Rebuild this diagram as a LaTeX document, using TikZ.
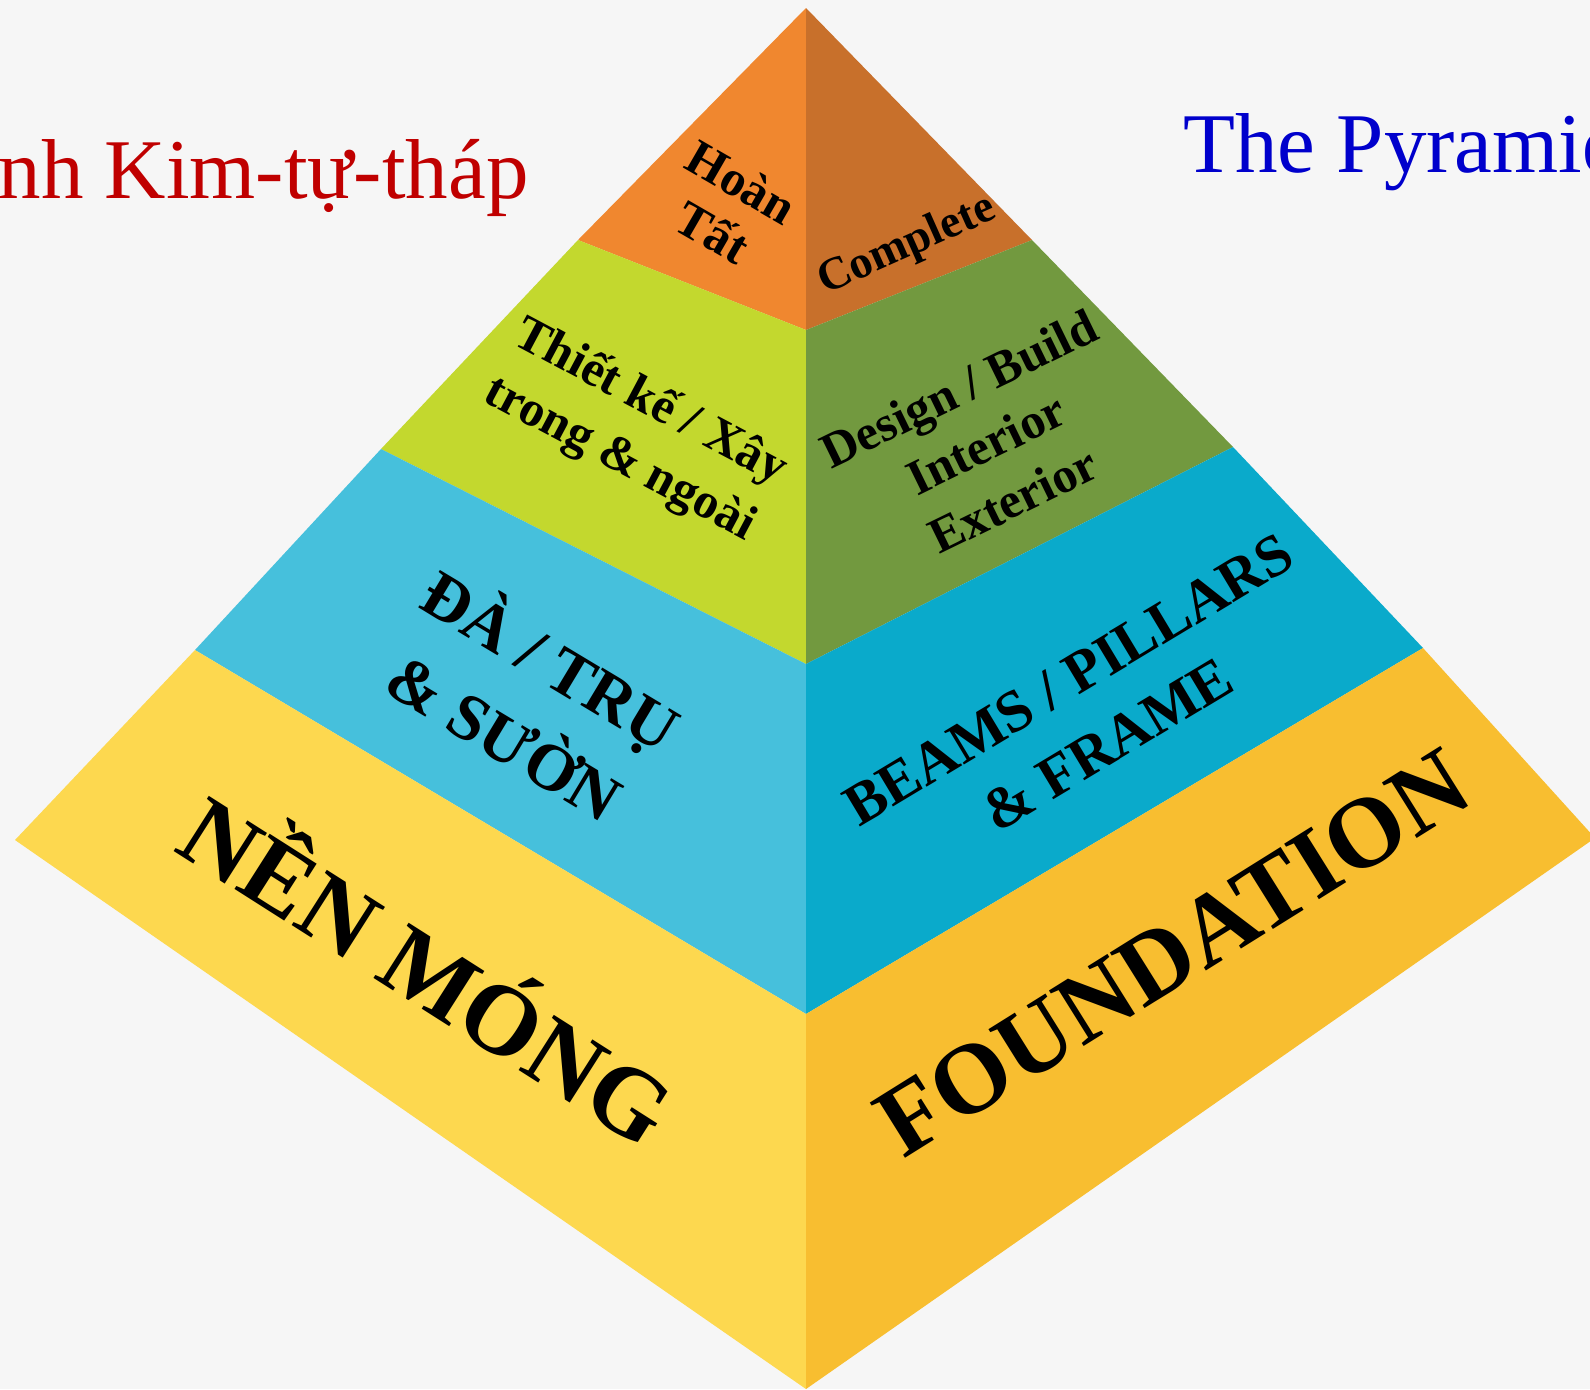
\documentclass[tikz,border=0pt]{standalone}
\usepackage{fontspec}
\setmainfont{Liberation Serif}
\definecolor{bg}{HTML}{F6F6F6}
\definecolor{orL}{HTML}{F0872F}
\definecolor{orR}{HTML}{C8702B}
\definecolor{grL}{HTML}{C3D82E}
\definecolor{grR}{HTML}{72993F}
\definecolor{blL}{HTML}{46C0DC}
\definecolor{blR}{HTML}{0AAACB}
\definecolor{yeL}{HTML}{FDD84F}
\definecolor{yeR}{HTML}{F8BE30}
\definecolor{titred}{HTML}{C00000}
\definecolor{titblue}{HTML}{0000CC}
\tikzset{
  lbl/.style={inner sep=0pt, align=center, text=black, font=\bfseries},
  title/.style={inner sep=0pt}
}
\begin{document}
\begin{tikzpicture}[x=0.5pt,y=-0.5pt]
\fill[bg] (0,0) rectangle (1590,1389);
\useasboundingbox (0,0) rectangle (1590,1389);
\clip (0,0) rectangle (1590,1389);
% key points
\coordinate (A) at (806,8);
\coordinate (L1) at (578,240);
\coordinate (C1) at (806,330);
\coordinate (R1) at (1032,240);
\coordinate (L2) at (381,449);
\coordinate (C2) at (806,664);
\coordinate (R2) at (1233,447);
\coordinate (L3) at (195,650);
\coordinate (C3) at (806,1014);
\coordinate (R3) at (1423,648);
\coordinate (LT) at (15,840);
\coordinate (B) at (806,1389);
\coordinate (RT) at (1595,838);
% faces
\fill[orL] (A) -- (L1) -- (C1) -- cycle;
\fill[orR] (A) -- (C1) -- (R1) -- cycle;
\fill[grL] (L1) -- (C1) -- (C2) -- (L2) -- cycle;
\fill[grR] (C1) -- (R1) -- (R2) -- (C2) -- cycle;
\fill[blL] (L2) -- (C2) -- (C3) -- (L3) -- cycle;
\fill[blR] (C2) -- (R2) -- (R3) -- (C3) -- cycle;
\fill[yeL] (L3) -- (C3) -- (B) -- (LT) -- cycle;
\fill[yeR] (C3) -- (R3) -- (RT) -- (B) -- cycle;
% labels
\node[lbl, rotate=-30, font=\bfseries\fontsize{25}{29}\selectfont] (hoan) at (727,207) {Hoàn\\Tất};
\node[lbl, rotate=24, font=\bfseries\fontsize{23}{27}\selectfont] (complete) at (907,246) {Complete};
\node[lbl, rotate=-28, font=\bfseries\fontsize{25}{32}\selectfont] (thiet) at (635,431) {Thiết kế / Xây\\trong \& ngoài};
\node[lbl, rotate=26, font=\bfseries\fontsize{25}{31}\selectfont] (design) at (986,444) {Design / Build\\Interior\\Exterior};
\node[lbl, rotate=-31, font=\bfseries\fontsize{33}{45}\selectfont] (da) at (530,695) {ĐÀ / TRỤ\\\& SƯỜN};
\node[lbl, rotate=31, font=\bfseries\fontsize{29.5}{38}\selectfont] (beams) at (1088,712) {BEAMS / PILLARS\\\& FRAME};
\node[lbl, rotate=-32.5, font=\bfseries\fontsize{50}{60}\selectfont] (nen) at (432,963) {NỀN MÓNG};
\node[lbl, rotate=32, font=\bfseries\fontsize{50}{60}\selectfont] (found) at (1173,953) {FOUNDATION};
% titles
\node[title, anchor=base east, text=titred, font=\fontsize{42.5}{50}\selectfont] (tleft) at (529,198) {nh Kim-tự-tháp};
\node[title, anchor=base west, text=titblue, font=\fontsize{42.5}{50}\selectfont] (tright) at (1183,172) {The Pyramid};
\end{tikzpicture}
\end{document}
